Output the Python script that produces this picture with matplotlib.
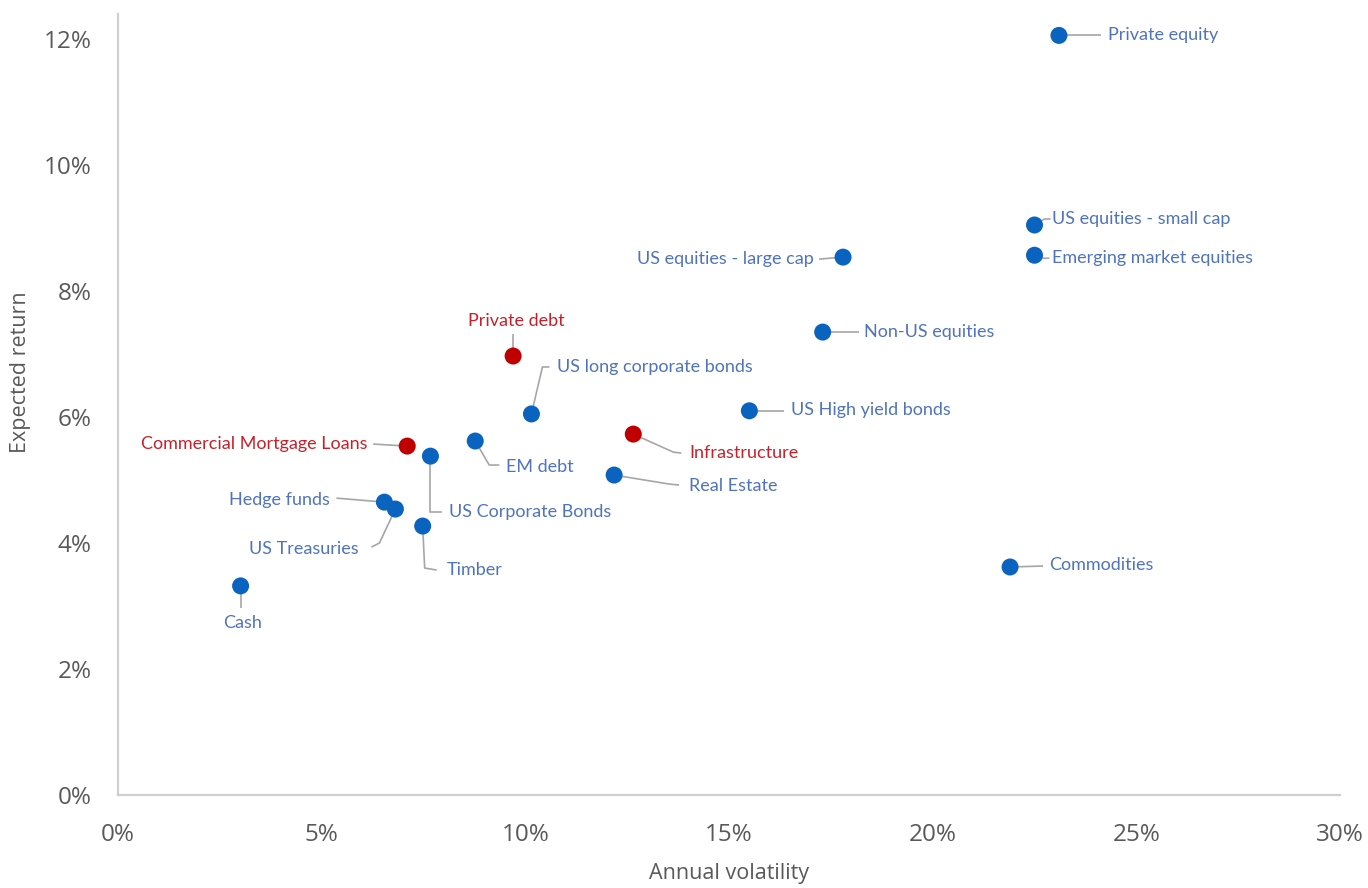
import matplotlib
matplotlib.use("Agg")
import matplotlib.pyplot as plt
from matplotlib.ticker import FuncFormatter
import numpy as np

# Asset classes: annual volatility (%) vs expected return (%)
assets = [
    "Private equity", "US equities - small cap", "Emerging market equities",
    "US equities - large cap", "Non-US equities", "Private debt",
    "US long corporate bonds", "US High yield bonds", "Commercial Mortgage Loans",
    "US Corporate Bonds", "EM debt", "Infrastructure", "Real Estate",
    "Hedge funds", "US Treasuries", "Timber", "Cash", "Commodities",
]
volatility = [23.1, 22.5, 22.5, 17.8, 17.3, 9.7, 10.15, 15.5, 7.1,
              7.67, 8.77, 12.65, 12.18, 6.54, 6.81, 7.48, 3.01, 21.9]
exp_return = [12.06, 9.05, 8.57, 8.54, 7.35, 6.97, 6.05, 6.10, 5.54,
              5.38, 5.62, 5.73, 5.08, 4.65, 4.54, 4.27, 3.32, 3.62]
highlight = ["Private debt", "Commercial Mortgage Loans", "Infrastructure"]

# label placement: leader path (pixel offsets, y down), text offset, alignment
layout = {
    "Private equity":            ([(0, 0), (42, 0)], (49, 0), "left"),
    "US equities - small cap":   ([(0, 0), (10, -6), (16, -6)], (17, -6), "left"),
    "Emerging market equities":  ([(0, 0), (8, 3), (15, 3)], (17, 3), "left"),
    "US equities - large cap":   ([(0, 0), (-24, 2)], (-29, 2), "right"),
    "Non-US equities":           ([(0, 0), (36, 0)], (41, 0), "left"),
    "Private debt":              ([(0, 0), (0, -22)], (3, -35), "center"),
    "US long corporate bonds":   ([(0, 0), (11, -47), (18, -47)], (26, -47), "left"),
    "US High yield bonds":       ([(0, 0), (35, 0)], (42, -1), "left"),
    "Commercial Mortgage Loans": ([(0, 0), (-34, -2)], (-40, -2), "right"),
    "US Corporate Bonds":        ([(0, 0), (0, 56), (12, 56)], (19, 56), "left"),
    "EM debt":                   ([(0, 0), (14, 24), (24, 24)], (31, 26), "left"),
    "Infrastructure":            ([(0, 0), (40, 18), (48, 19)], (56, 19), "left"),
    "Real Estate":               ([(0, 0), (12, 2), (55, 9), (65, 10)], (75, 11), "left"),
    "Hedge funds":               ([(0, 0), (-48, -4)], (-55, -2), "right"),
    "US Treasuries":             ([(0, 0), (-16, 34), (-24, 38)], (-37, 40), "right"),
    "Timber":                    ([(0, 0), (2, 42), (14, 44)], (24, 44), "left"),
    "Cash":                      ([(0, 0), (0, 22)], (2, 37), "center"),
    "Commodities":               ([(0, 0), (33, -1)], (39, -2), "left"),
}

BLUE = "#0b63c0"
RED = "#c00000"
LABEL_BLUE = "#4f73bf"
LABEL_RED = "#c8202a"
GREY = "#595959"

fig = plt.figure(figsize=(13.68, 8.88), dpi=100)
ax = fig.add_axes([118 / 1368, 93 / 888, (1340 - 118) / 1368, (795 - 14) / 888])
ax.set_xlim(0, 30)
ax.set_ylim(0, 12.4)

for side in ("top", "right"):
    ax.spines[side].set_visible(False)
for side in ("left", "bottom"):
    ax.spines[side].set_color("#cfcfcf")
    ax.spines[side].set_linewidth(1.6)

ax.set_xticks(np.arange(0, 31, 5))
ax.set_yticks(np.arange(0, 13, 2))
pct = FuncFormatter(lambda v, _: f"{v:.0f}%")
ax.xaxis.set_major_formatter(pct)
ax.yaxis.set_major_formatter(pct)
ax.tick_params(length=0, labelsize=17.5, labelcolor=GREY)
ax.tick_params(axis="x", pad=20)
ax.tick_params(axis="y", pad=19)
for lab in ax.get_xticklabels() + ax.get_yticklabels():
    lab.set_fontfamily("Open Sans")

ax.set_xlabel("Annual volatility", fontsize=15.5, color=GREY,
              family="Open Sans", labelpad=12)
ax.text(-0.080, 0.542, "Expected return", transform=ax.transAxes,
        rotation=90, ha="center", va="center", fontsize=15.5, color=GREY,
        family="Open Sans")

colors = [RED if a in highlight else BLUE for a in assets]
ax.scatter(volatility, exp_return, s=150, c=colors, zorder=3, linewidths=0)

inv = ax.transData.inverted()
for name, x, y in zip(assets, volatility, exp_return):
    path, (tx, ty), ha = layout[name]
    px, py = ax.transData.transform((x, y))
    disp = np.array([(px + dx, py - dy) for dx, dy in path])
    pts = inv.transform(disp)
    ax.plot(pts[:, 0], pts[:, 1], color="#a6a6a6", lw=1.2, zorder=2,
            solid_capstyle="butt")
    ax.annotate(name, (x, y), xytext=(tx, -ty), textcoords="offset pixels",
                ha=ha, va="center", fontsize=13, family="Lato",
                color=LABEL_RED if name in highlight else LABEL_BLUE,
                zorder=4)

fig.savefig("out.png", dpi=100)
